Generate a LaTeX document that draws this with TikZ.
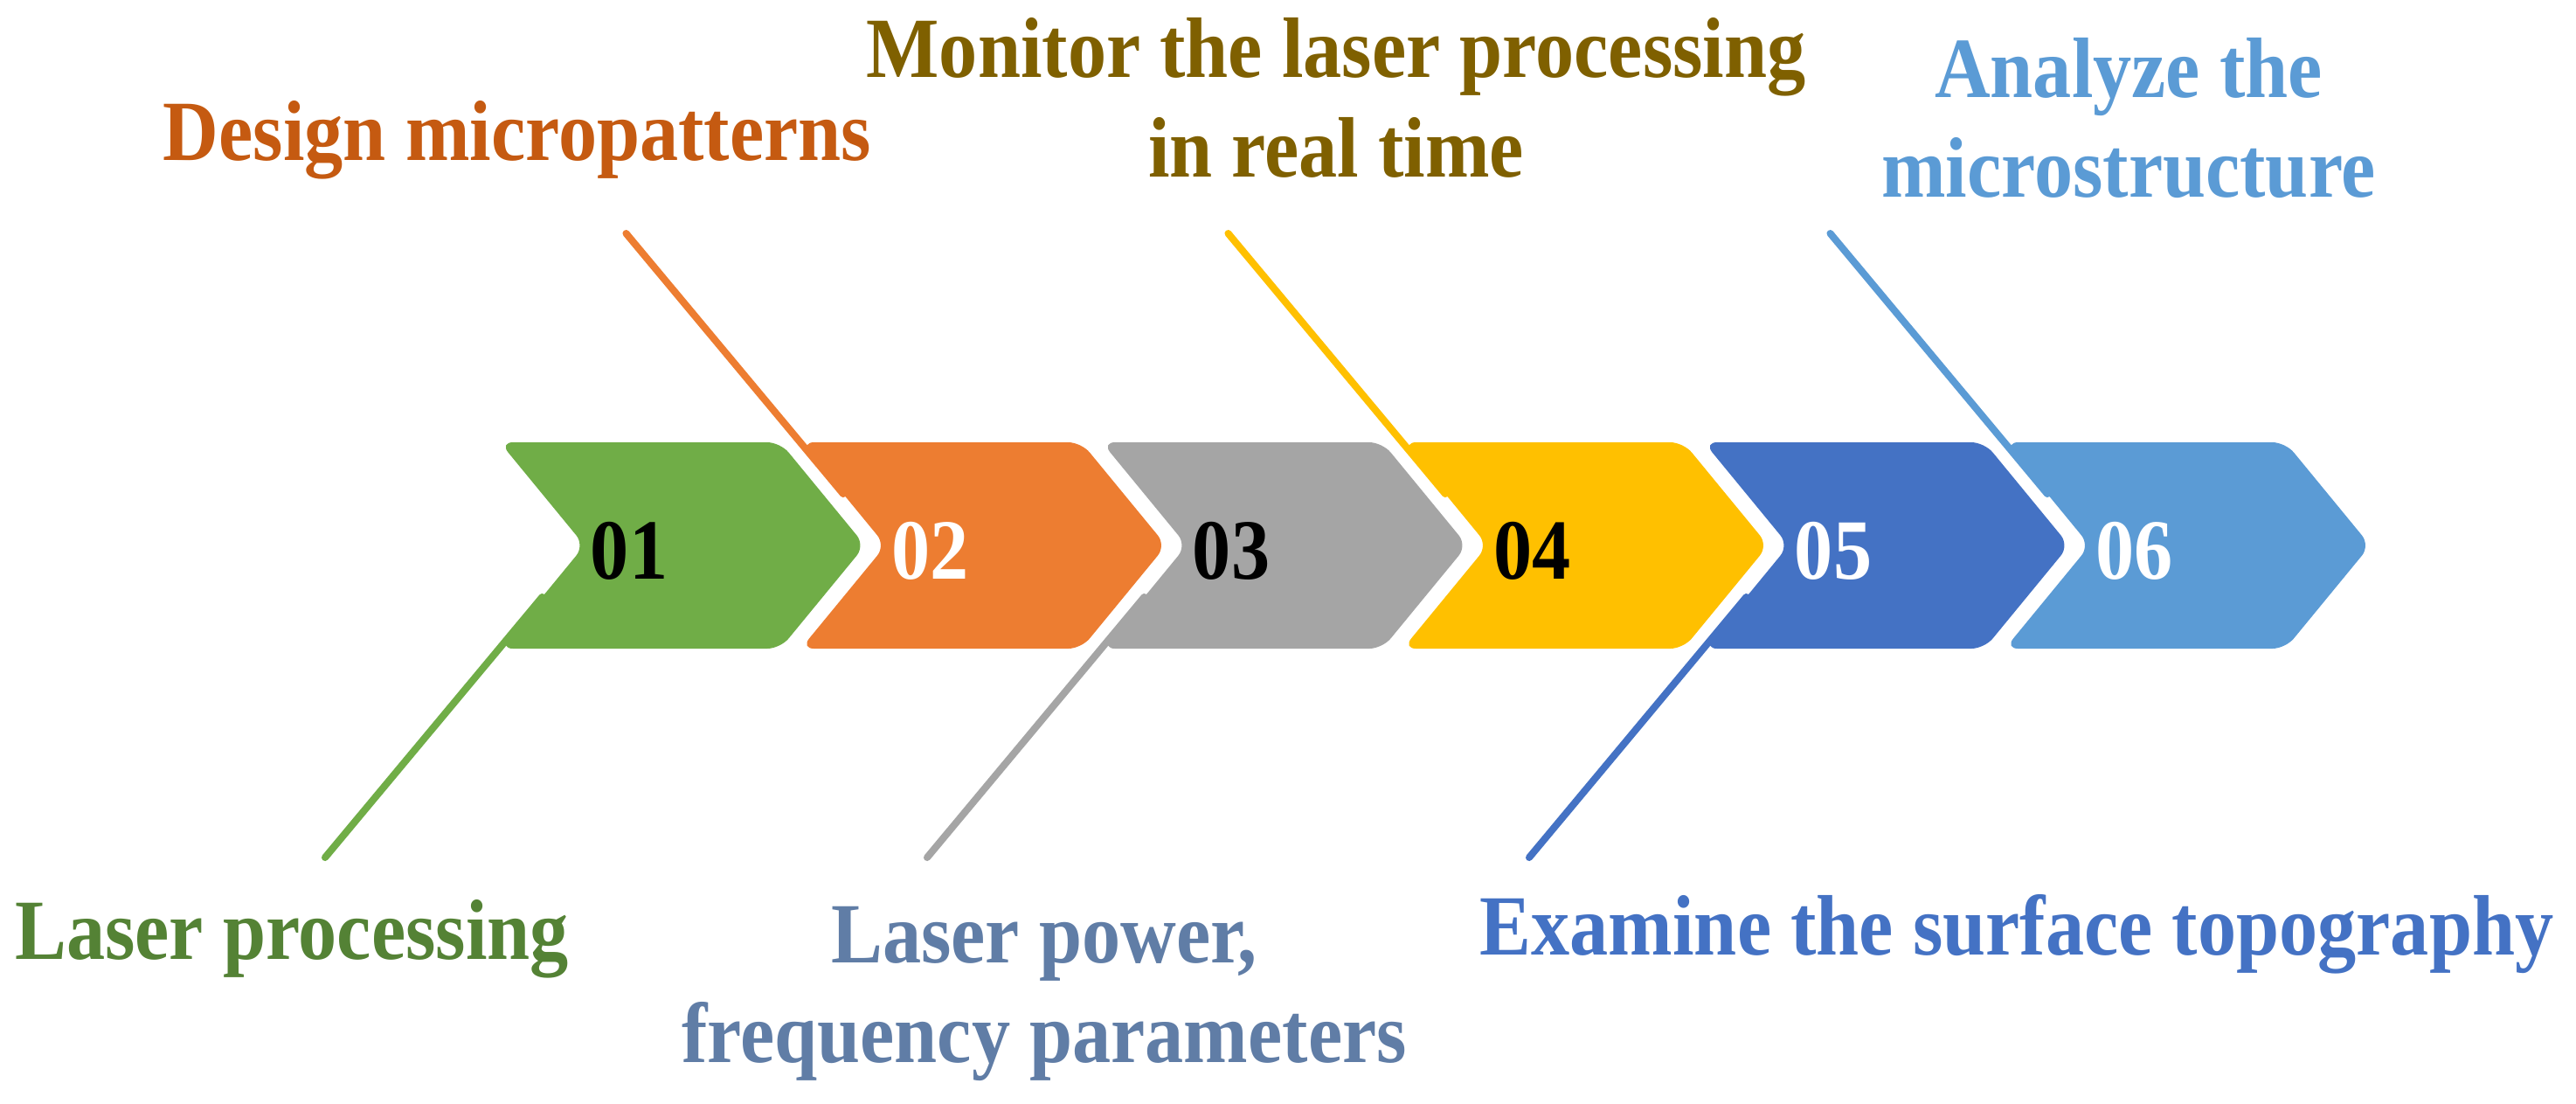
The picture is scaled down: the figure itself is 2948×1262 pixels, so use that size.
\documentclass[tikz,border=0pt]{standalone}
\usepackage{fontspec}
\setmainfont{Liberation Serif}[FakeStretch=0.9]
\definecolor{cOne}{HTML}{70AD47}
\definecolor{cTwo}{HTML}{ED7D31}
\definecolor{cThree}{HTML}{A5A5A5}
\definecolor{cFour}{HTML}{FFC000}
\definecolor{cFive}{HTML}{4472C4}
\definecolor{cSix}{HTML}{5B9BD5}
\definecolor{tOne}{HTML}{548235}
\definecolor{tTwo}{HTML}{C55A11}
\definecolor{tThree}{HTML}{607DA6}
\definecolor{tFour}{HTML}{7F6000}
\definecolor{tFive}{HTML}{4472C4}
\definecolor{tSix}{HTML}{5B9BD5}
\begin{document}
\begin{tikzpicture}[x=0.01cm,y=-0.01cm]
	\tikzset{chev/.style={rounded corners=0.15cm},
		stem/.style={line width=2.3pt,line cap=round},
		num/.style={font=\fontsize{27.9}{32.4}\selectfont\bfseries,inner sep=0pt,anchor=base},
		caption/.style={font=\fontsize{27.9}{32.4}\selectfont\bfseries,inner sep=0pt,anchor=base,align=center}}
	\useasboundingbox (0,0) rectangle (2948,1262);
	\foreach \i/\col/\tc/\ye/\ys in {1/cOne/black/981/683,2/cTwo/white/267/565,3/cThree/black/981/683,
		4/cFour/black/267/565,5/cFive/white/981/683,6/cSix/white/267/565}{
		\pgfmathsetmacro\L{572+344.5*(\i-1)}
		\coordinate (s\i) at (\L+48.5,\ys);
		\coordinate (e\i) at (\L-200,\ye);
		\draw[stem,\col] (s\i) -- (e\i);
		\fill[chev,\col] (\L,506) -- (\L+321,506) -- (\L+418,624) -- (\L+321,742) -- (\L,742) -- (\L+97,624) -- cycle;
		\node[num,text=\tc] (n\i) at (\L+148,662) {0\i};
	}
	\node[caption,text=tOne] (lab1) at (334,1097) {Laser processing};
	\node[caption,text=tTwo] (lab2) at (592,183) {Design micropatterns};
	\node[caption,text=tThree] (lab3) at (1195,1215) {Laser power,\\frequency parameters};
	\node[caption,text=tFour] (lab4) at (1529,202) {Monitor the laser processing\\in real time};
	\node[caption,text=tFive] (lab5) at (2308,1092) {Examine the surface topography};
	\node[caption,text=tSix] (lab6) at (2436,225) {Analyze the\\microstructure};
\end{tikzpicture}
\end{document}
